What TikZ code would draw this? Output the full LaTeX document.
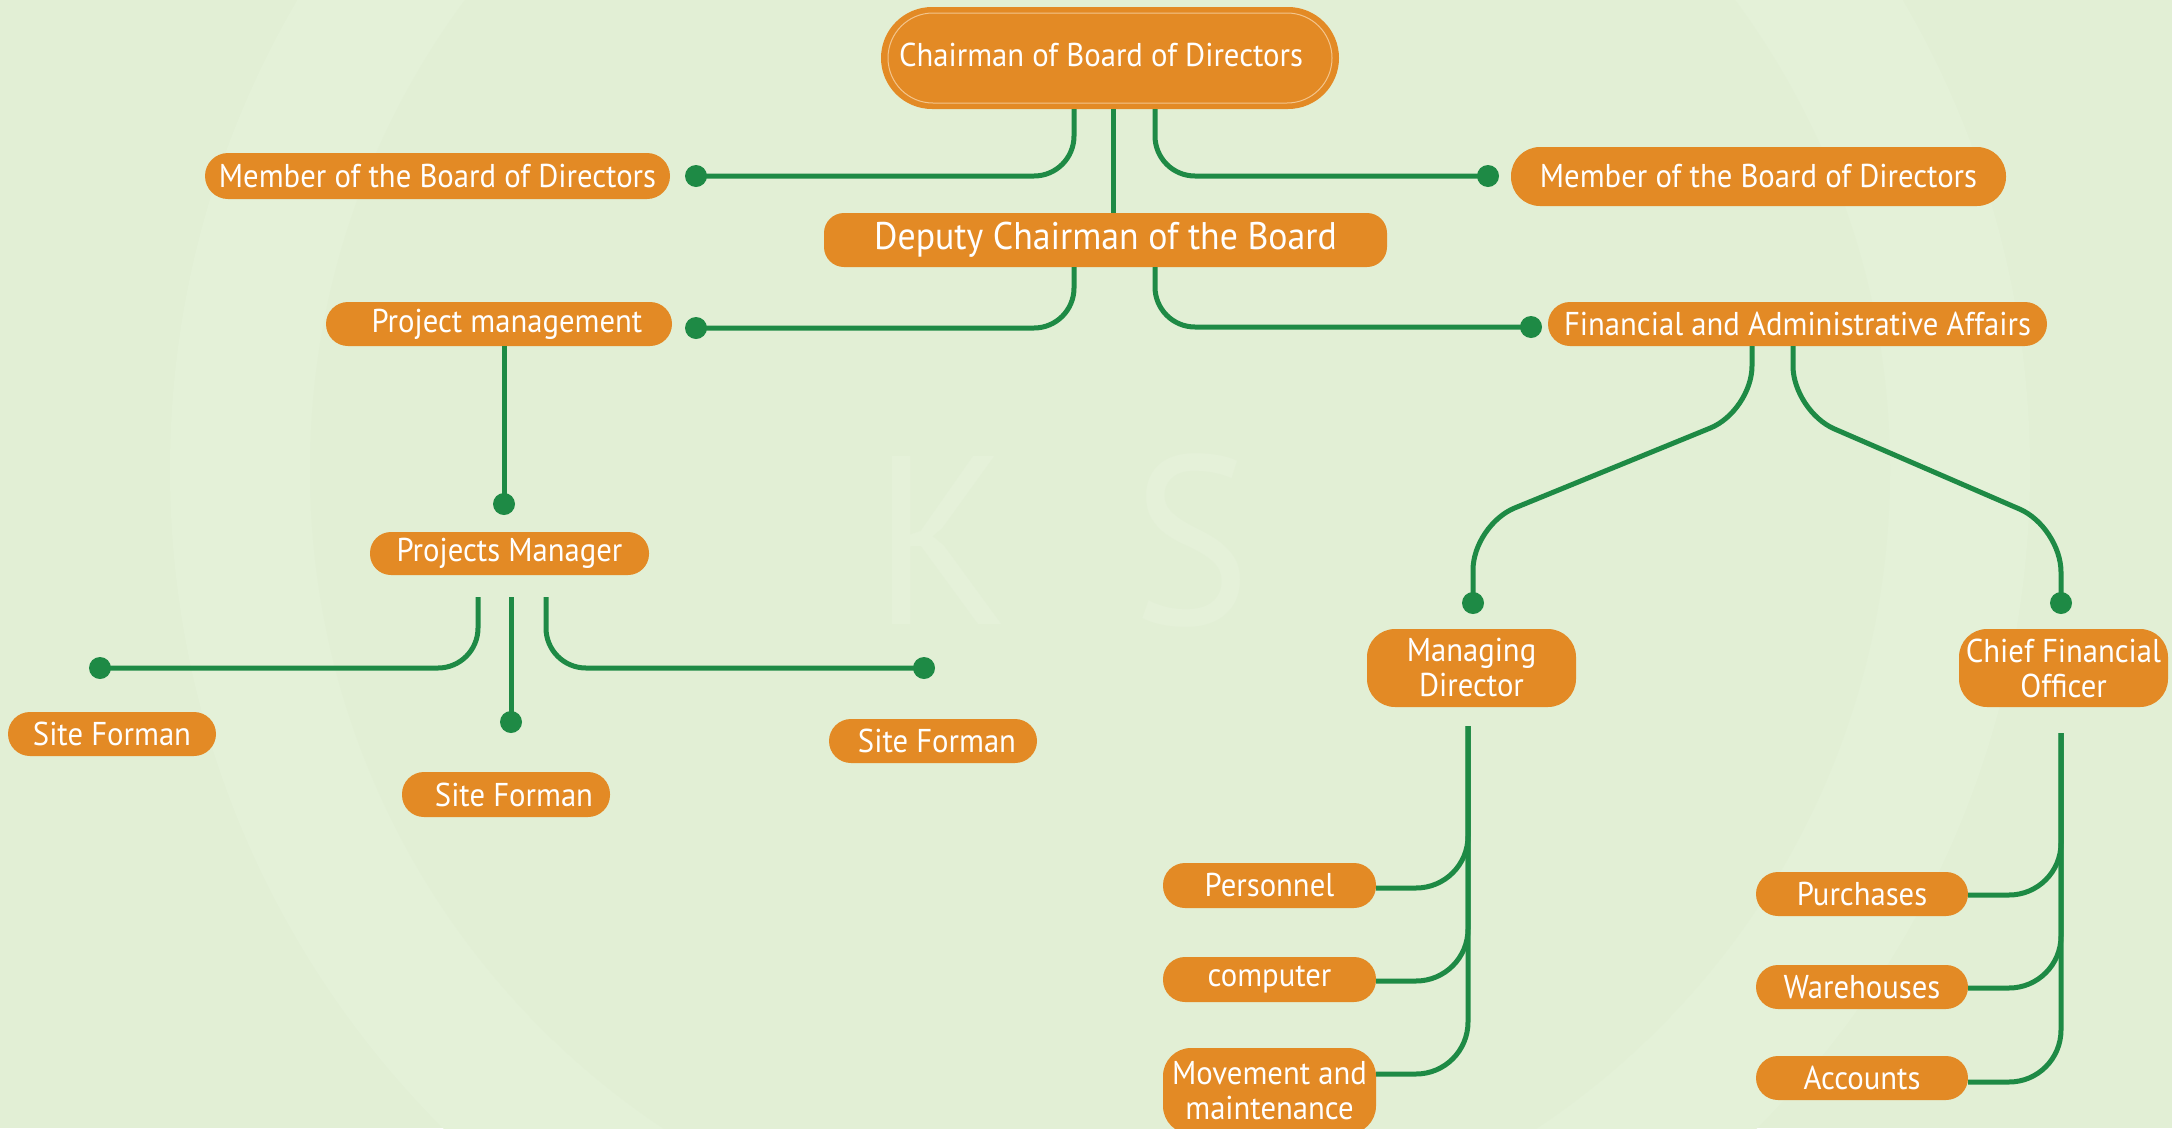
\documentclass[tikz,border=0pt]{standalone}
\usepackage{fontspec}
\setmainfont[FakeStretch=0.93]{PT Sans}
\definecolor{bgC}{HTML}{E2EFD5}
\definecolor{wmC}{HTML}{E4F1D8}
\definecolor{orC}{HTML}{E38A25}
\definecolor{grC}{HTML}{1E8A45}
\definecolor{rimC}{HTML}{F3C58C}
\newcommand{\labfont}{\fontsize{33}{35}\selectfont}
\tikzset{
  box/.style={fill=orC, text=white, rounded corners=#1, inner sep=0pt, align=center, font=\labfont},
  box/.default=21pt,
  conn/.style={draw=grC, line width=5pt, rounded corners=40pt},
  dotC/.style={fill=grC},
}
\begin{document}
\begin{tikzpicture}[x=1pt,y=-1pt]
\useasboundingbox (0,0) rectangle (2172,1128);
\clip (0,0) rectangle (2172,1128);
\fill[bgC] (0,0) rectangle (2172,1128);
% faint watermark
\fill[wmC] (1100,470) circle (930);
\fill[bgC] (1100,470) circle (790);
\node[text=bgC!90!white, font=\fontsize{240}{240}\selectfont] (wmK) at (942,540) {K};
\node[text=bgC!90!white, font=\fontsize{240}{240}\selectfont] (wmS) at (1192,540) {S};

% nodes
\node[box=51pt, minimum width=458pt, minimum height=102pt] (chair) at (1110,58) {};
\draw[rimC, line width=1pt, rounded corners=45pt] (888,13) rectangle (1332,103);
\node[text=white, font=\fontsize{33}{35}\selectfont, inner sep=0pt] (chairT) at (1101,55) {Chairman of Board of Directors};
\node[box=23pt, minimum width=465pt, minimum height=46pt] (memL) at (437.5,176) {Member of the Board of Directors};
\node[box=29pt, minimum width=495pt, minimum height=59pt] (memR) at (1758.5,176.5) {Member of the Board of Directors};
\node[box=20pt, minimum width=563pt, minimum height=54pt, font=\fontsize{38.5}{40}\selectfont] (dep) at (1105.5,240) {Deputy Chairman of the Board};
\node[box=22pt, minimum width=346pt, minimum height=44pt] (pm) at (499,324) {\hspace*{16pt}Project management};
\node[box=22pt, minimum width=499pt, minimum height=44pt] (fin) at (1797.5,324) {Financial and Administrative Affairs};
\node[box=21pt, minimum width=279pt, minimum height=43pt] (pmgr) at (509.5,553.5) {Projects Manager};
\node[box=22pt, minimum width=208pt, minimum height=44pt] (sfL) at (112,734) {Site Forman};
\node[box=22pt, minimum width=208pt, minimum height=45pt] (sfM) at (506,794.5) {\hspace*{16pt}Site Forman};
\node[box=22pt, minimum width=208pt, minimum height=44pt] (sfR) at (933,741) {\hspace*{8pt}Site Forman};
\node[box=28pt, minimum width=209pt, minimum height=78pt] (md) at (1471.5,668) {Managing\\Director};
\node[box=28pt, minimum width=209pt, minimum height=78pt] (cfo) at (2063.5,668) {Chief Financial\\Officer};
\node[box=22pt, minimum width=213pt, minimum height=45pt] (pers) at (1269.5,885.5) {Personnel};
\node[box=22pt, minimum width=213pt, minimum height=45pt] (comp) at (1269.5,979.5) {computer};
\node[box=28pt, minimum width=213pt, minimum height=86pt] (move) at (1269.5,1091) {Movement and\\maintenance};
\node[box=22pt, minimum width=212pt, minimum height=44pt] (purch) at (1862,894) {Purchases};
\node[box=22pt, minimum width=212pt, minimum height=44pt] (ware) at (1862,987) {Warehouses};
\node[box=22pt, minimum width=212pt, minimum height=44pt] (acc) at (1862,1078) {Accounts};

% connector end points
\coordinate (d1) at (696,176);
\coordinate (d2) at (1488,176);
\coordinate (d3) at (696,328);
\coordinate (d4) at (1531,327);
\coordinate (d5) at (504,504);
\coordinate (d6) at (100,668);
\coordinate (d7) at (511,722);
\coordinate (d8) at (924,668);
\coordinate (d9) at (1473,603);
\coordinate (d10) at (2061,603);
\coordinate (mdTop) at (1468,726);
\coordinate (cfoTop) at (2061,733);

% connectors
\draw[conn] ([xshift=-36pt]chair.south) |- (d1);
\draw[conn] ([xshift=45pt]chair.south) |- (d2);
\draw[conn] ([xshift=3pt]chair.south) -- ([xshift=3pt]chair.south |- dep.north);
\draw[conn] ([xshift=-31.5pt]dep.south) |- (d3);
\draw[conn] ([xshift=49.5pt]dep.south) |- (d4);
\draw[conn] ([xshift=5pt]pm.south) -- (d5);
\draw[conn] ([xshift=-31.5pt,yshift=-22pt]pmgr.south) |- (d6);
\draw[conn] ([xshift=1.5pt,yshift=-22pt]pmgr.south) -- (d7);
\draw[conn] ([xshift=36.5pt,yshift=-22pt]pmgr.south) |- (d8);
\draw[conn, rounded corners=45pt] ([xshift=-45.5pt]fin.south) -- (1752,411) -- (1473,525) -- (d9);
\draw[conn, rounded corners=45pt] ([xshift=-4.5pt]fin.south) -- (1793,411) -- (2061,527) -- (d10);
\draw[conn, rounded corners=52pt] ([yshift=-2.5pt]pers.east) -| (mdTop);
\draw[conn, rounded corners=52pt] ([yshift=-1.5pt]comp.east) -| (mdTop);
\draw[conn, rounded corners=52pt] ([yshift=17pt]move.east) -| (mdTop);
\draw[conn, rounded corners=52pt] ([yshift=-1pt]purch.east) -| (cfoTop);
\draw[conn, rounded corners=52pt] ([yshift=-1pt]ware.east) -| (cfoTop);
\draw[conn, rounded corners=52pt] ([yshift=-4pt]acc.east) -| (cfoTop);

% dots
\foreach \d in {d1,d2,d3,d4,d5,d6,d7,d8,d9,d10} \fill[dotC] (\d) circle (11pt);
\end{tikzpicture}
\end{document}
